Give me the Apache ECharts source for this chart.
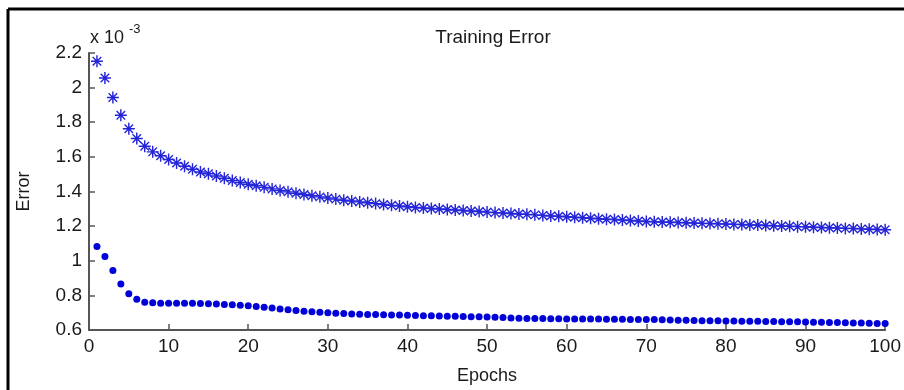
<!DOCTYPE html>
<html>
<head>
<meta charset="utf-8">
<script src="https://cdn.jsdelivr.net/npm/echarts@6/dist/echarts.min.js"></script>
<style>
  html, body { margin: 0; padding: 0; background: #fff; }
  #chart { width: 904px; height: 390px; }
</style>
</head>
<body>
<div id="chart"></div>
<script>
// error values in units of 1e-3, epoch 1..100
const epochs = Array.from({ length: 100 }, (_, i) => i + 1)

const starError = [
  2.152, 2.056, 1.943, 1.840, 1.763, 1.706, 1.661, 1.629, 1.606, 1.585,
  1.565, 1.546, 1.528, 1.513, 1.502, 1.490, 1.476, 1.463, 1.452, 1.442,
  1.433, 1.424, 1.415, 1.406, 1.398, 1.390, 1.383, 1.376, 1.369, 1.362,
  1.356, 1.350, 1.345, 1.340, 1.335, 1.330, 1.325, 1.320, 1.316, 1.312,
  1.308, 1.305, 1.302, 1.299, 1.296, 1.293, 1.290, 1.287, 1.284, 1.281,
  1.278, 1.276, 1.273, 1.270, 1.268, 1.265, 1.262, 1.259, 1.257, 1.254,
  1.251, 1.248, 1.246, 1.243, 1.240, 1.238, 1.235, 1.232, 1.230, 1.227,
  1.225, 1.224, 1.222, 1.221, 1.219, 1.218, 1.216, 1.215, 1.213, 1.212,
  1.210, 1.209, 1.207, 1.206, 1.204, 1.202, 1.201, 1.199, 1.197, 1.196,
  1.194, 1.192, 1.191, 1.189, 1.187, 1.186, 1.184, 1.182, 1.181, 1.179
]

const dotError = [
  1.082, 1.024, 0.943, 0.865, 0.809, 0.778, 0.761, 0.757, 0.755, 0.755,
  0.755, 0.755, 0.754, 0.753, 0.752, 0.750, 0.748, 0.746, 0.743, 0.740,
  0.736, 0.732, 0.727, 0.722, 0.717, 0.713, 0.709, 0.706, 0.702, 0.699,
  0.697, 0.695, 0.693, 0.691, 0.690, 0.689, 0.688, 0.687, 0.686, 0.685,
  0.684, 0.683, 0.682, 0.681, 0.680, 0.679, 0.678, 0.677, 0.676, 0.675,
  0.674, 0.672, 0.670, 0.668, 0.667, 0.666, 0.666, 0.665, 0.665, 0.664,
  0.664, 0.663, 0.663, 0.663, 0.662, 0.662, 0.662, 0.661, 0.661, 0.661,
  0.660, 0.659, 0.658, 0.657, 0.656, 0.655, 0.654, 0.654, 0.653, 0.652,
  0.652, 0.651, 0.650, 0.650, 0.649, 0.649, 0.648, 0.647, 0.647, 0.646,
  0.645, 0.645, 0.644, 0.643, 0.642, 0.641, 0.640, 0.639, 0.638, 0.637
]

const xTicks = { min: 0, max: 100, interval: 10 }
const yTicks = { min: 0.6, max: 2.2, interval: 0.2 }

// asterisk marker like matlab '*' (plus + cross, all same winding)
const asterisk = 'path://M-0.6 -5 L0.6 -5 L0.6 5 L-0.6 5 Z ' +
  'M-5 -0.6 L5 -0.6 L5 0.6 L-5 0.6 Z ' +
  'M-3.15 -3.95 L3.95 3.15 L3.15 3.95 L-3.95 -3.15 Z ' +
  'M3.15 -3.95 L3.95 -3.15 L-3.15 3.95 L-3.95 3.15 Z'

const font = 'Liberation Sans, Arial, sans-serif'
const axisColor = '#555'
const textColor = '#1a1a1a'

const chart = echarts.init(document.getElementById('chart'))

const option = {
  animation: false,
  backgroundColor: '#fff',
  title: {
    text: 'Training Error',
    left: 488,
    top: 23,
    textAlign: 'center',
    textStyle: { fontFamily: font, fontSize: 19, fontWeight: 'normal', color: textColor }
  },
  grid: { left: 89, right: 17, top: 53, bottom: 49 },
  xAxis: {
    type: 'value',
    min: xTicks.min,
    max: xTicks.max,
    interval: xTicks.interval,
    name: 'Epochs',
    nameLocation: 'middle',
    nameGap: 37,
    nameTextStyle: { fontFamily: font, fontSize: 18, color: textColor },
    axisLine: { lineStyle: { color: axisColor, width: 2 } },
    axisTick: { inside: true, length: 6, lineStyle: { color: axisColor, width: 1.5 } },
    axisLabel: { fontFamily: font, fontSize: 19, color: textColor, margin: 7 },
    splitLine: { show: false }
  },
  yAxis: {
    type: 'value',
    min: yTicks.min,
    max: yTicks.max,
    interval: yTicks.interval,
    name: 'Error',
    nameLocation: 'middle',
    nameGap: 56,
    nameRotate: 90,
    nameTextStyle: { fontFamily: font, fontSize: 18, color: textColor },
    axisLine: { show: true, lineStyle: { color: axisColor, width: 2 } },
    axisTick: { show: true, inside: true, length: 6, lineStyle: { color: axisColor, width: 1.5 } },
    axisLabel: {
      fontFamily: font, fontSize: 19, color: textColor, margin: 7,
      formatter: (v) => String(+v.toFixed(1))
    },
    splitLine: { show: false }
  },
  graphic: [
    { type: 'text', left: 90, top: 29, style: { text: 'x 10', font: '18px ' + font, fill: textColor } },
    { type: 'text', left: 129, top: 23, style: { text: '-3', font: '13px ' + font, fill: textColor } },
    // outer black frame (left + top edges visible)
    { type: 'line', shape: { x1: 8, y1: 9, x2: 904, y2: 9 }, style: { stroke: '#000', lineWidth: 3 } },
    { type: 'line', shape: { x1: 8, y1: 9, x2: 8, y2: 390 }, style: { stroke: '#000', lineWidth: 3 } }
  ],
  series: [
    {
      name: 'Error A',
      type: 'scatter',
      symbol: asterisk,
      symbolSize: 12,
      itemStyle: { color: '#2424d8', opacity: 1 },
      data: epochs.map((e, i) => [e, starError[i]])
    },
    {
      name: 'Error B',
      type: 'scatter',
      symbol: 'circle',
      symbolSize: 7,
      itemStyle: { color: '#0000d8', opacity: 1 },
      data: epochs.map((e, i) => [e, dotError[i]])
    }
  ]
}

chart.setOption(option)
</script>
</body>
</html>
